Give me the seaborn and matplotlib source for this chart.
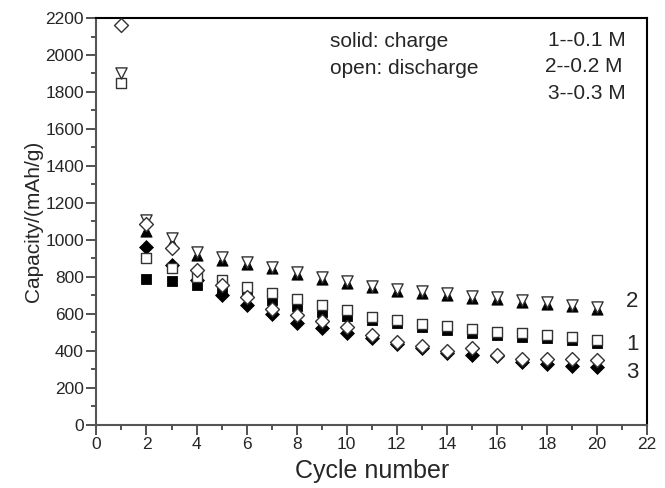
import matplotlib
matplotlib.use("Agg")
import matplotlib.pyplot as plt
from matplotlib.ticker import MultipleLocator
import numpy as np
import pandas as pd
import seaborn as sns

sns.set_style("ticks")
plt.rcParams['font.family'] = ['Liberation Sans', 'DejaVu Sans']

# 数据：放电(open) 从第1圈开始，充电(solid) 从第2圈开始
cycle_dis = list(range(1, 21))
cycle_chg = list(range(2, 21))

dis_1 = [1850, 900, 850, 800, 784, 746, 713, 681, 649, 622, 584, 568, 546, 535, 519, 503, 497, 486, 476, 459]
chg_1 = [790, 775, 757, 740, 720, 676, 643, 611, 589, 565, 551, 530, 514, 497, 486, 476, 470, 459, 443]
dis_2 = [1900, 1105, 1010, 935, 908, 880, 855, 827, 800, 778, 751, 735, 724, 714, 697, 692, 676, 665, 649, 638]
chg_2 = [1045, 985, 920, 890, 868, 845, 815, 790, 768, 742, 722, 712, 702, 685, 680, 665, 655, 640, 628]
dis_3 = [2160, 1088, 956, 838, 757, 692, 627, 595, 562, 530, 486, 449, 427, 400, 416, 378, 357, 357, 357, 351]
chg_3 = [962, 865, 784, 703, 649, 600, 552, 524, 497, 470, 438, 416, 389, 378, 370, 341, 330, 319, 314]

curve_labels = ["2", "1", "3"]
curve_label_y = [665, 432, 281]

fig, ax = plt.subplots(figsize=(6.65, 4.88), dpi=100)

ms = 55
# solid: charge
sns.scatterplot(x=cycle_chg, y=chg_1, marker='s', s=ms, color='black', edgecolor='black', ax=ax, zorder=2)
sns.scatterplot(x=cycle_chg, y=chg_2, marker='^', s=ms + 10, color='black', edgecolor='black', ax=ax, zorder=2)
sns.scatterplot(x=cycle_chg, y=chg_3, marker='D', s=ms - 5, color='black', edgecolor='black', ax=ax, zorder=2)
# open: discharge
sns.scatterplot(x=cycle_dis, y=dis_1, marker='s', s=ms, color='white', edgecolor='#333333', linewidth=1, ax=ax, zorder=3)
sns.scatterplot(x=cycle_dis, y=dis_2, marker='v', s=ms + 10, color='white', edgecolor='#333333', linewidth=1, ax=ax, zorder=3)
sns.scatterplot(x=cycle_dis, y=dis_3, marker='D', s=ms - 5, color='white', edgecolor='#333333', linewidth=1, ax=ax, zorder=3)

for lab, yy in zip(curve_labels, curve_label_y):
    ax.text(21.15, yy, lab, fontsize=16, va='center', ha='left')

ax.text(0.425, 0.942, "solid: charge", transform=ax.transAxes, fontsize=15, va='center')
ax.text(0.425, 0.877, "open: discharge", transform=ax.transAxes, fontsize=15, va='center')
ax.text(0.962, 0.945, "1--0.1 M", transform=ax.transAxes, fontsize=15, va='center', ha='right')
ax.text(0.955, 0.88, "2--0.2 M", transform=ax.transAxes, fontsize=15, va='center', ha='right')
ax.text(0.962, 0.815, "3--0.3 M", transform=ax.transAxes, fontsize=15, va='center', ha='right')

ax.set_xlim(0, 22)
ax.set_ylim(0, 2200)
ax.xaxis.set_major_locator(MultipleLocator(2))
ax.xaxis.set_minor_locator(MultipleLocator(1))
ax.yaxis.set_major_locator(MultipleLocator(200))
ax.yaxis.set_minor_locator(MultipleLocator(100))
ax.tick_params(which='major', direction='out', length=7, width=1.3, color='#444444', labelsize=12.5, pad=2)
ax.tick_params(which='minor', direction='out', length=3.5, width=1.3, color='#444444')

ax.set_xlabel("Cycle number", fontsize=18, labelpad=5)
ax.set_ylabel("Capacity/(mAh/g)", fontsize=15, labelpad=2)

for side in ['left', 'bottom']:
    ax.spines[side].set_color('#555555')
    ax.spines[side].set_linewidth(1.5)
for side in ['top', 'right']:
    ax.spines[side].set_visible(True)
    ax.spines[side].set_color('black')
    ax.spines[side].set_linewidth(1.5)

plt.subplots_adjust(left=0.145, right=0.973, bottom=0.13, top=0.963)
plt.savefig("out.png", dpi=100)
